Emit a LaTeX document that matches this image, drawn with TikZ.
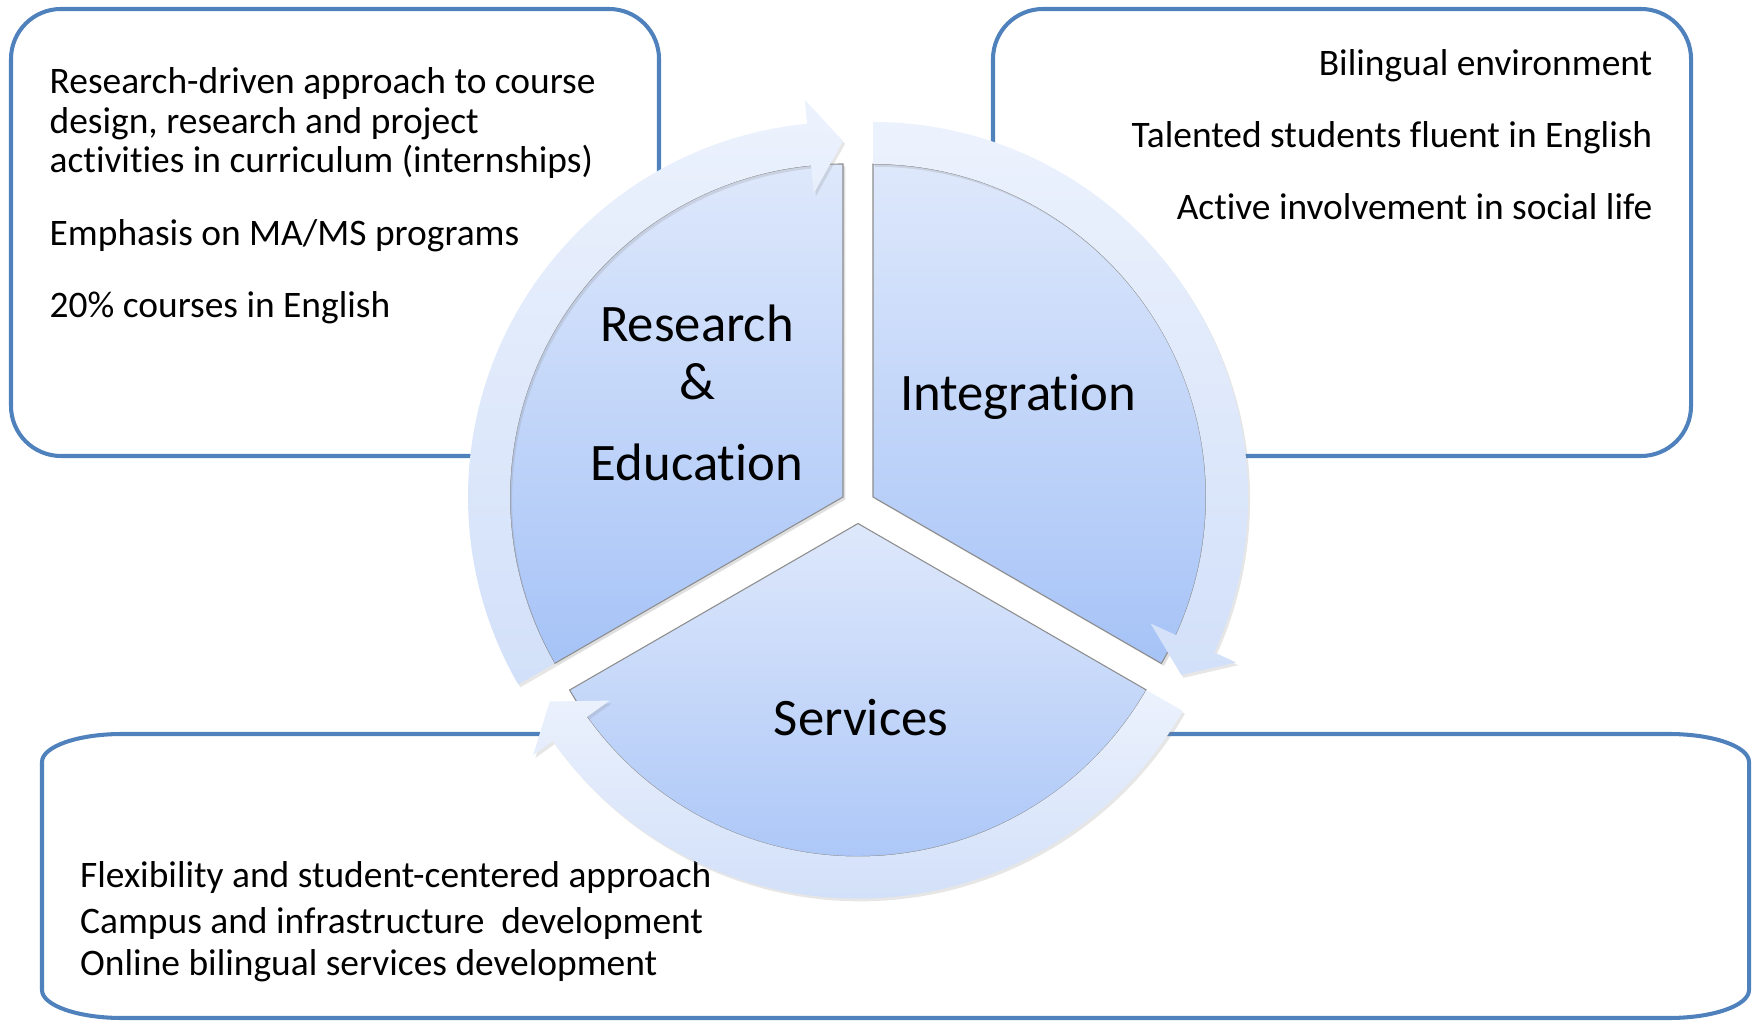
\documentclass[tikz,border=0pt]{standalone}
\usepackage{fontspec}
\setmainfont[Ligatures=NoCommon]{Carlito}
\usepackage{tikz}
\usetikzlibrary{calc}
\usetikzlibrary{shadows}
\definecolor{panelblue}{RGB}{79,129,189}
\definecolor{wedgetop}{RGB}{222,232,251}
\definecolor{wedgebot}{RGB}{166,195,247}
\definecolor{bandtop}{RGB}{236,242,253}
\definecolor{bandbot}{RGB}{210,224,249}
\tikzset{
    panel/.style={draw=panelblue, line width=1.15pt},
    wedge/.style={top color=wedgetop, bottom color=wedgebot, draw=black!45, line width=0.3pt,
        drop shadow={opacity=0.25, shadow xshift=0.7pt, shadow yshift=-0.7pt}},
    band/.style={top color=bandtop, bottom color=bandbot,
        drop shadow={opacity=0.2, shadow xshift=0.6pt, shadow yshift=-0.8pt}},
    txt/.style={font=\fontsize{10.65}{12}\selectfont, inner sep=0pt},
    lbl/.style={font=\fontsize{15}{17}\selectfont, inner sep=0pt}}
% curved arrow round a wedge: centre, start angle, end angle (clockwise)
\newcommand{\cyclearrow}[3]{%
    \path[band] ($(#1)+(#2:3.75)$) arc[start angle=#2, end angle=#3+5.5, radius=3.75]
        -- ($(#1)+(#3+5.5:3.99)$) -- ($(#1)+(#3:3.56)$) -- ($(#1)+(#3+5.5:3.05)$)
        -- ($(#1)+(#3+5.5:3.33)$) arc[start angle=#3+5.5, end angle=#2, radius=3.33] -- cycle;}

\begin{document}
\begin{tikzpicture}
    \useasboundingbox (0,0) rectangle (17.56,10.22);

    % the three text boxes
    \draw[panel, rounded corners=0.5cm] (0.11,5.66) rectangle (6.59,10.13);
    \draw[panel, rounded corners=0.5cm] (9.93,5.66) rectangle (16.91,10.13);
    \draw[panel] (0.42,1.5) -- (0.42,2.60) arc[start angle=180, end angle=90, x radius=0.8, y radius=0.28]
        -- (16.69,2.88) arc[start angle=90, end angle=0, x radius=0.8, y radius=0.28]
        -- (17.49,0.32) arc[start angle=0, end angle=-90, x radius=0.8, y radius=0.28]
        -- (1.22,0.04) arc[start angle=270, end angle=180, x radius=0.8, y radius=0.28] -- cycle;

    \node[txt, anchor=base west] (r1) at (0.49,9.28) {Research-driven approach to course};
    \node[txt, anchor=base west] (r2) at (0.49,8.88) {design, research and project};
    \node[txt, anchor=base west] (r3) at (0.49,8.49) {activities in curriculum (internships)};
    \node[txt, anchor=base west] (r4) at (0.49,7.76) {Emphasis on MA/MS programs};
    \node[txt, anchor=base west] (r5) at (0.49,7.04) {20\% courses in English};

    \node[txt, anchor=base east] (i1) at (16.53,9.46) {Bilingual environment};
    \node[txt, anchor=base east] (i2) at (16.53,8.74) {Talented students fluent in English};
    \node[txt, anchor=base east] (i3) at (16.53,8.02) {Active involvement in social life};

    \node[txt, anchor=base west] (s1) at (0.795,1.35) {Flexibility and student-centered approach};
    \node[txt, anchor=base west] (s2) at (0.795,0.89) {Campus and infrastructure~ development};
    \node[txt, anchor=base west] (s3) at (0.795,0.47) {Online bilingual services development};

    % the cycle
    \coordinate (R) at (8.43,5.25);
    \coordinate (I) at (8.73,5.25);
    \coordinate (S) at (8.58,4.985);

    \path[wedge] (R) -- ++(90:3.33) arc[start angle=90, end angle=210, radius=3.33] -- cycle;
    \path[wedge] (I) -- ++(90:3.33) arc[start angle=90, end angle=-30, radius=3.33] -- cycle;
    \path[wedge] (S) -- ++(-30:3.33) arc[start angle=-30, end angle=-150, radius=3.33] -- cycle;

    \cyclearrow{R}{210}{90}
    \cyclearrow{I}{90}{-30}
    \cyclearrow{S}{-30}{-150}

    \node[lbl, anchor=base] (rese) at (6.97,6.80) {Research};
    \node[lbl, anchor=base] (amp) at (6.97,6.22) {\&};
    \node[lbl, anchor=base] (educ) at (6.97,5.41) {Education};
    \node[lbl, anchor=base] (integ) at (10.18,6.11) {Integration};
    \node[lbl, anchor=base] (serv) at (8.61,2.87) {Services};
\end{tikzpicture}
\end{document}
